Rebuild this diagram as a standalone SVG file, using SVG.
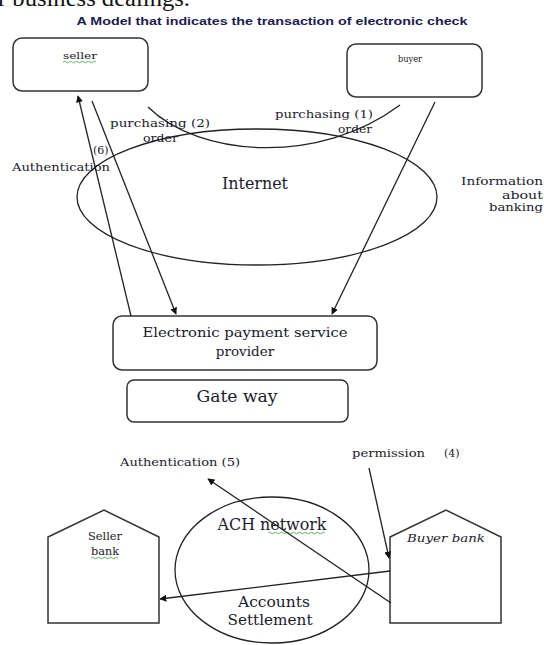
<svg xmlns="http://www.w3.org/2000/svg" width="544" height="645" viewBox="0 0 544 645">
<style>
  .ln{fill:none;stroke:#222;stroke-width:1.3}
  .box{fill:#fff;stroke:#333;stroke-width:1.5}
  .t{font-family:"DejaVu Serif","Liberation Serif",serif;fill:#1a1a2e}
  .sq{fill:none;stroke:#3c9a3c;stroke-width:0.8}
</style>
<defs>
  <marker id="ah" viewBox="0 0 10 10" refX="9" refY="5" markerWidth="7" markerHeight="7" orient="auto-start-reverse" markerUnits="userSpaceOnUse">
    <path d="M0,0 L10,5 L0,10 z" fill="#111"/>
  </marker>
</defs>
<rect width="544" height="645" fill="#fff"/>
<text x="-2" y="6" font-family="'Liberation Serif',serif" font-size="23" fill="#111" textLength="192" lengthAdjust="spacingAndGlyphs">r business dealings.</text>
<text x="272" y="25" font-family="'Liberation Sans',sans-serif" font-weight="bold" font-size="11.5" fill="#1c1c50" text-anchor="middle" textLength="391" lengthAdjust="spacingAndGlyphs">A Model that indicates the transaction of electronic check</text>

<g id="seller">
  <rect class="box" x="13" y="38" width="135" height="53" rx="9"/>
  <text class="t" x="80" y="59" font-size="10" text-anchor="middle" textLength="34" lengthAdjust="spacingAndGlyphs">seller</text>
  <path class="sq" d="M63,62 q1.5,-1.5 3,0 t3,0 t3,0 t3,0 t3,0 t3,0 t3,0 t3,0 t3,0 t3,0 t3,0"/>
</g>
<g id="buyer">
  <rect class="box" x="347" y="44" width="135" height="53" rx="9"/>
  <text class="t" x="410" y="62" font-size="9.5" text-anchor="middle" textLength="24" lengthAdjust="spacingAndGlyphs">buyer</text>
</g>
<g id="internet">
  <ellipse class="ln" cx="257" cy="197" rx="180" ry="68"/>
  <text class="t" x="255" y="189" font-size="16" text-anchor="middle" textLength="66" lengthAdjust="spacingAndGlyphs">Internet</text>
</g>
<g id="eps">
  <rect class="box" x="113" y="316" width="264" height="54" rx="9"/>
  <text class="t" x="245" y="337" font-size="13.5" text-anchor="middle" textLength="205" lengthAdjust="spacingAndGlyphs">Electronic payment service</text>
  <text class="t" x="245" y="356" font-size="13.5" text-anchor="middle">provider</text>
</g>
<g id="gateway">
  <rect class="box" x="127" y="380" width="221" height="42" rx="7"/>
  <text class="t" x="237" y="402" font-size="16.5" text-anchor="middle" textLength="81" lengthAdjust="spacingAndGlyphs">Gate way</text>
</g>
<g id="sellerbank">
  <path class="box" d="M48,537 L104,510 L159,537 L159,623 L48,623 Z"/>
  <text class="t" x="105" y="540" font-size="10.5" text-anchor="middle" textLength="34" lengthAdjust="spacingAndGlyphs">Seller</text>
  <text class="t" x="105" y="555" font-size="10.5" text-anchor="middle" textLength="28" lengthAdjust="spacingAndGlyphs">bank</text>
  <path class="sq" d="M91,558 q1.5,-1.5 3,0 t3,0 t3,0 t3,0 t3,0 t3,0 t3,0 t3,0 t3,0"/>
</g>
<g id="buyerbank">
  <path class="box" d="M390,537 L446,510 L501,537 L501,623 L390,623 Z"/>
  <text class="t" x="446" y="542" font-size="11" font-style="italic" text-anchor="middle" textLength="78" lengthAdjust="spacingAndGlyphs">Buyer bank</text>
</g>
<g id="ach">
  <ellipse class="ln" cx="272" cy="570" rx="97" ry="73"/>
  <text class="t" x="272" y="530" font-size="16" text-anchor="middle" textLength="109" lengthAdjust="spacingAndGlyphs">ACH network</text>
  <path class="sq" d="M268,533 q1.5,-1.5 3,0 t3,0 t3,0 t3,0 t3,0 t3,0 t3,0 t3,0 t3,0 t3,0 t3,0 t3,0 t3,0 t3,0 t3,0 t3,0 t3,0 t3,0 t3,0"/>
  <text class="t" x="274" y="607" font-size="15" text-anchor="middle" textLength="72" lengthAdjust="spacingAndGlyphs">Accounts</text>
  <text class="t" x="270" y="625" font-size="15" text-anchor="middle" textLength="85" lengthAdjust="spacingAndGlyphs">Settlement</text>
</g>

<g id="connectors">
  <path class="ln" d="M148,107 C200,158 320,165 400,105"/>
  <line class="ln" x1="131" y1="316" x2="78" y2="96" marker-end="url(#ah)"/>
  <line class="ln" x1="92" y1="101" x2="176" y2="314" marker-end="url(#ah)"/>
  <line class="ln" x1="435" y1="102" x2="332" y2="314" marker-end="url(#ah)"/>
  <line class="ln" x1="369" y1="468" x2="389" y2="558" marker-end="url(#ah)"/>
  <line class="ln" x1="391" y1="603" x2="208" y2="479" marker-end="url(#ah)"/>
  <line class="ln" x1="390" y1="571" x2="160" y2="599" marker-end="url(#ah)"/>
</g>

<g id="labels" class="t" font-size="10.5">
  <text x="110" y="127" textLength="100" lengthAdjust="spacingAndGlyphs">purchasing  (2)</text>
  <text x="143" y="142" textLength="35" lengthAdjust="spacingAndGlyphs">order</text>
  <text x="275" y="118" textLength="98" lengthAdjust="spacingAndGlyphs">purchasing  (1)</text>
  <text x="338" y="133" textLength="34" lengthAdjust="spacingAndGlyphs">order</text>
  <text x="93" y="154" font-size="11">(6)</text>
  <text x="12" y="171" textLength="98" lengthAdjust="spacingAndGlyphs">Authentication</text>
  <text x="543" y="185" text-anchor="end" textLength="82" lengthAdjust="spacingAndGlyphs">Information</text>
  <text x="543" y="199" text-anchor="end" textLength="41" lengthAdjust="spacingAndGlyphs">about</text>
  <text x="543" y="211" text-anchor="end" textLength="54" lengthAdjust="spacingAndGlyphs">banking</text>
  <text x="120" y="466" textLength="120" lengthAdjust="spacingAndGlyphs">Authentication (5)</text>
  <text x="352" y="457" textLength="73" lengthAdjust="spacingAndGlyphs">permission</text>
  <text x="444" y="457" font-size="11">(4)</text>
</g>
</svg>
